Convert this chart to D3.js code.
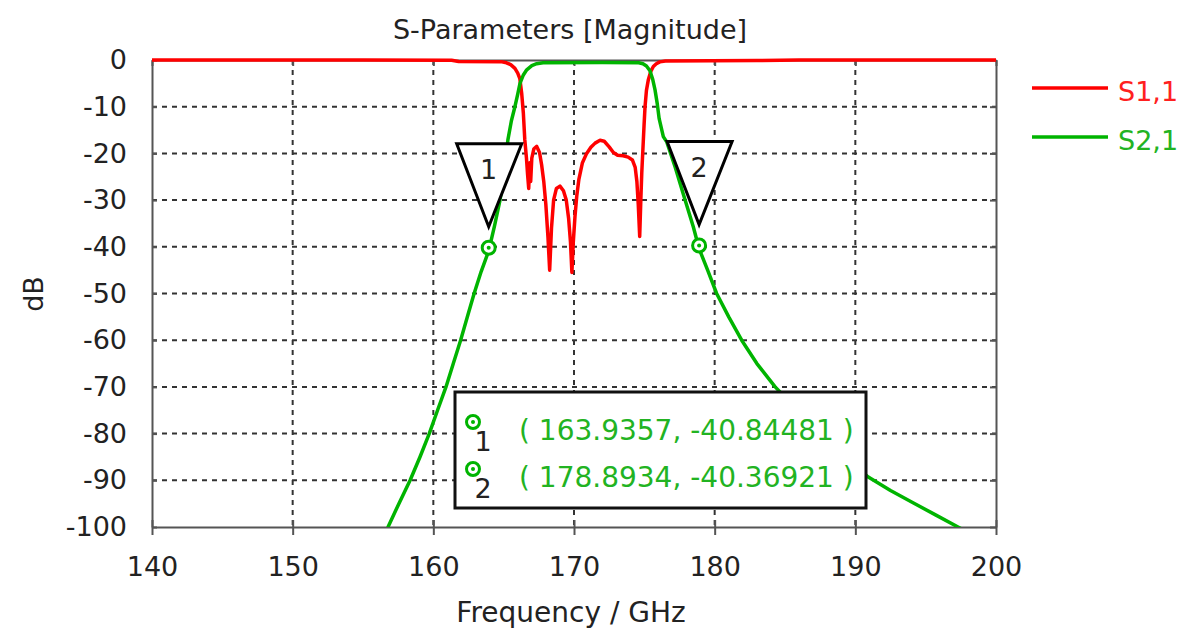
<!DOCTYPE html>
<meta charset="utf-8">
<style>
    body { margin: 0; background: #fff; }
    svg text { font-family: "DejaVu Sans", sans-serif; fill: #222; }
    .grid line { stroke: #333; stroke-width: 2; stroke-dasharray: 5,5; }
    .axis path, .axis line { stroke: #555; stroke-width: 2; }
    .axis text { font-size: 27px; }
</style>
<svg id="chart" width="1189" height="629"></svg>
<script src="https://cdn.jsdelivr.net/npm/d3@7/dist/d3.min.js"></script>
<script>
    // S1,1 (reflection)
    var s11Freq = [140, 155, 161.3, 161.8, 164.8, 165.2, 165.5, 165.8, 166.0, 166.15, 166.28, 166.4, 166.5,
        166.62, 166.7, 166.78, 166.85, 166.92, 167.0, 167.15, 167.35, 167.55, 167.7, 167.85, 168.0, 168.15,
        168.27, 168.4, 168.55, 168.75, 169.0, 169.25, 169.45, 169.62, 169.75, 169.85, 169.95, 170.07, 170.2,
        170.35, 170.6, 170.9, 171.2, 171.5, 171.85, 172.15, 172.5, 172.8, 173.1, 173.5, 173.85, 174.15, 174.35,
        174.47, 174.57, 174.67, 174.75, 174.82, 174.9, 174.98, 175.05, 175.15, 175.28, 175.45, 175.64, 175.85,
        176.1, 176.5, 183, 186, 200];
    var s11dB = [0, 0, -0.05, -0.3, -0.35, -0.6, -1.0, -1.8, -2.8, -4.0, -7.1, -11.4, -17,
        -21, -24.5, -27.5, -22, -26, -21, -19, -18.5, -19.8, -22.5, -26, -31, -38,
        -45, -36, -30, -27.5, -27, -28, -30, -34, -39, -45.5, -39, -33.5, -29,
        -25.5, -22, -20, -18.7, -17.8, -17.2, -17.4, -18.6, -19.8, -20.4, -20.5, -20.8, -21.4, -23,
        -26, -31, -37.8, -30, -24, -19, -14, -10, -6.5, -4.3, -2.5, -1.4, -0.8,
        -0.4, -0.2, -0.1, 0, 0];

    // S2,1 (transmission)
    var s21Freq = [156.5, 156.78, 157.55, 158.35, 159.05, 159.71, 160.3, 160.9, 161.42, 161.94, 162.42, 162.9,
        163.4, 163.94, 164.35, 164.74, 165.05, 165.3, 165.55, 165.8, 166.0, 166.16, 166.4, 166.64, 167.0,
        167.35, 167.8, 172, 174.6, 174.9, 175.15, 175.4, 175.6, 175.76, 175.92, 176.05, 176.35, 176.6, 177.2,
        177.8, 178.48, 178.89, 179.5, 180.14, 181.0, 181.92, 183.0, 184.3, 185.9, 187.5, 189.2, 190.92,
        192.5, 194.1, 195.7, 197.3, 197.6];
    var s21dB = [-101.6, -100, -95, -90, -85, -80, -75, -70, -65, -60, -55, -50,
        -45.3, -40.84, -35.5, -30, -24, -17.1, -13, -10, -7.3, -5, -3.2, -2.1, -1.2,
        -0.8, -0.6, -0.55, -0.6, -0.8, -1.3, -2.3, -4.2, -6.4, -9.4, -12.5, -16.4, -17.6, -23,
        -29, -35.7, -40.37, -45, -50, -55, -60, -65, -70, -75, -80, -85, -89.3,
        -92.2, -94.8, -97.4, -100, -100.5];

    var xTicks = [140, 150, 160, 170, 180, 190, 200];
    var yTicks = [0, -10, -20, -30, -40, -50, -60, -70, -80, -90, -100];

    var markerIds = ["1", "2"];
    var markerFreq = [163.9357, 178.8934];
    var markerdB = [-40.84481, -40.36921];

    var seriesNames = ["S1,1", "S2,1"];
    var seriesColors = ["#ff0000", "#00b400"];
    var legendColors = ["#ff2020", "#22b322"];

    var margin = { left: 152, right: 193, top: 60, bottom: 102 };
    var width = 1189 - margin.left - margin.right,
        height = 629 - margin.top - margin.bottom;

    var svg = d3.select("#chart");
    var g = svg.append("g").attr("transform", "translate(" + margin.left + "," + margin.top + ")");

    var x = d3.scaleLinear().domain([140, 200]).range([0, width]);
    var y = d3.scaleLinear().domain([-100, 0]).range([height, 0]);

    svg.append("defs").append("clipPath").attr("id", "plot")
        .append("rect").attr("x", 0).attr("y", -2).attr("width", width).attr("height", height + 2);

    // grid
    var grid = g.append("g").attr("class", "grid");
    grid.selectAll("line.v").data(xTicks.slice(1, -1)).enter().append("line")
        .attr("class", "v")
        .attr("x1", function (d) { return x(d); }).attr("x2", function (d) { return x(d); })
        .attr("y1", 0).attr("y2", height);
    grid.selectAll("line.h").data(yTicks.slice(1, -1)).enter().append("line")
        .attr("class", "h")
        .attr("x1", 0).attr("x2", width)
        .attr("y1", function (d) { return y(d); }).attr("y2", function (d) { return y(d); });

    // axes (plain hyphen for negatives, like the original)
    var fmt = function (d) { return String(d); };

    var xAxis = g.append("g").attr("class", "axis")
        .attr("transform", "translate(0," + height + ")")
        .call(d3.axisBottom(x).tickValues(xTicks).tickFormat(fmt).tickSize(8).tickSizeOuter(0).tickPadding(22));
    xAxis.selectAll(".tick line").attr("y1", -7);

    var yAxis = g.append("g").attr("class", "axis")
        .call(d3.axisLeft(y).tickValues(yTicks).tickFormat(fmt).tickSize(8).tickSizeOuter(0).tickPadding(17));
    yAxis.selectAll(".tick line").attr("x2", 5);

    g.append("g").attr("class", "axis")
        .attr("transform", "translate(" + width + ",0)")
        .call(d3.axisRight(y).tickValues(yTicks).tickSize(0).tickFormat(""))
        .selectAll(".tick line").attr("x1", -6).attr("x2", 0);
    g.append("g").attr("class", "axis")
        .call(d3.axisTop(x).tickValues(xTicks).tickSize(0).tickFormat(""))
        .selectAll(".tick line").attr("y1", 6).attr("y2", 0);

    // curves
    var line = d3.line()
        .x(function (d) { return x(d[0]); })
        .y(function (d) { return y(d[1]); });

    var curves = g.append("g").attr("clip-path", "url(#plot)");
    curves.append("path")
        .datum(d3.zip(s11Freq, s11dB))
        .attr("fill", "none").attr("stroke", seriesColors[0]).attr("stroke-width", 3.5)
        .attr("stroke-linejoin", "round")
        .attr("d", line);
    curves.append("path")
        .datum(d3.zip(s21Freq, s21dB))
        .attr("fill", "none").attr("stroke", seriesColors[1]).attr("stroke-width", 3.5)
        .attr("stroke-linejoin", "round")
        .attr("d", line);

    // markers
    var markers = g.selectAll("g.marker")
        .data(d3.zip(markerIds, markerFreq, markerdB))
        .enter().append("g")
        .attr("class", "marker")
        .attr("transform", function (d) { return "translate(" + x(d[1]) + "," + (y(d[2]) - 3) + ")"; });

    markers.append("path")
        .attr("d", "M-32,-104L33,-104L0,-21Z")
        .attr("fill", "#fff").attr("stroke", "#000").attr("stroke-width", 3)
        .attr("stroke-linejoin", "miter");
    markers.append("text")
        .attr("y", -69).attr("text-anchor", "middle")
        .style("font-size", "27px")
        .text(function (d) { return d[0]; });
    markers.append("circle").attr("r", 6.5)
        .attr("fill", "#fff").attr("stroke", seriesColors[1]).attr("stroke-width", 3);
    markers.append("circle").attr("r", 2).attr("fill", seriesColors[1]);

    // marker readout box
    var box = g.append("g").attr("transform", "translate(" + (455 - margin.left) + "," + (392 - margin.top) + ")");
    box.append("rect").attr("width", 411).attr("height", 116)
        .attr("fill", "#fff").attr("stroke", "#111").attr("stroke-width", 3);
    var rows = box.selectAll("g.row")
        .data(d3.zip(markerIds, markerFreq, markerdB))
        .enter().append("g")
        .attr("class", "row")
        .attr("transform", function (d, i) { return "translate(0," + (30 + i * 47) + ")"; });
    rows.append("circle").attr("cx", 18).attr("r", 6.5)
        .attr("fill", "#fff").attr("stroke", seriesColors[1]).attr("stroke-width", 3);
    rows.append("circle").attr("cx", 18).attr("r", 2).attr("fill", seriesColors[1]);
    rows.append("text").attr("x", 28).attr("y", 29)
        .attr("text-anchor", "middle").style("font-size", "27px")
        .text(function (d) { return d[0]; });
    rows.append("text").attr("x", 64).attr("y", 18)
        .style("font-size", "28px").style("fill", "#22b322")
        .text(function (d) { return "( " + d[1].toFixed(4) + ", " + d[2].toFixed(5) + " )"; });

    // titles
    svg.append("text").attr("x", 570).attr("y", 39).attr("text-anchor", "middle")
        .style("font-size", "27px").text("S-Parameters [Magnitude]");
    svg.append("text").attr("x", 571).attr("y", 622).attr("text-anchor", "middle")
        .style("font-size", "28px").text("Frequency / GHz");
    svg.append("text").attr("transform", "translate(43,294) rotate(-90)").attr("text-anchor", "middle")
        .style("font-size", "27px").text("dB");

    // legend
    var legend = svg.selectAll("g.legend")
        .data(seriesNames)
        .enter().append("g")
        .attr("class", "legend")
        .attr("transform", function (d, i) { return "translate(1032," + (88 + i * 49) + ")"; });
    legend.append("line").attr("x1", 0).attr("x2", 76)
        .attr("stroke", function (d, i) { return seriesColors[i]; }).attr("stroke-width", 3.5);
    legend.append("text").attr("x", 86).attr("y", 13)
        .style("font-size", "27px")
        .style("fill", function (d, i) { return legendColors[i]; })
        .text(function (d) { return d; });
</script>
